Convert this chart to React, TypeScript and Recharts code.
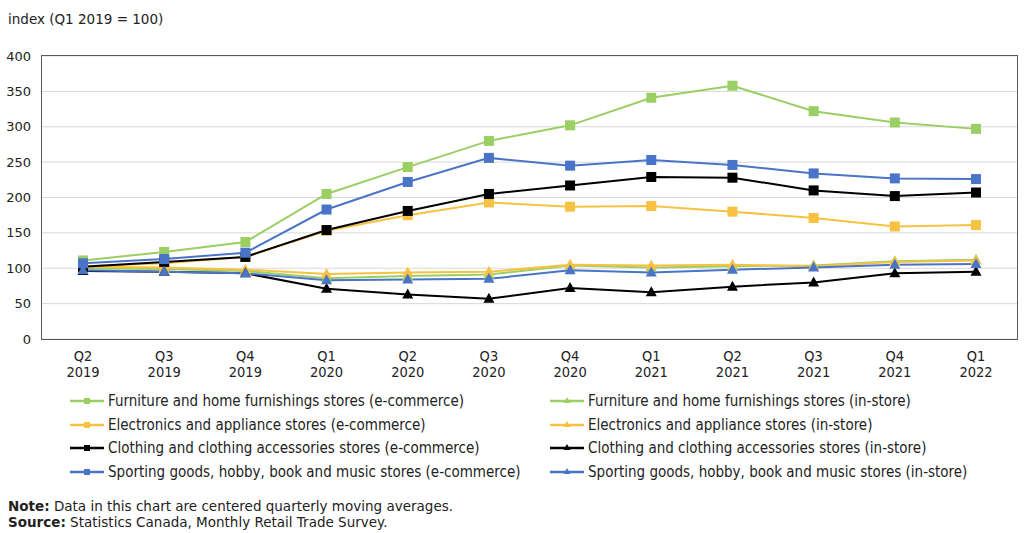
import React from 'react'
import { LineChart, Line, XAxis, YAxis, CartesianGrid } from 'recharts'

const quarters = ['Q2 2019', 'Q3 2019', 'Q4 2019', 'Q1 2020', 'Q2 2020', 'Q3 2020', 'Q4 2020', 'Q1 2021', 'Q2 2021', 'Q3 2021', 'Q4 2021', 'Q1 2022']
const yTicks = [0, 50, 100, 150, 200, 250, 300, 350, 400]

const furnEcom = [111, 123, 137, 205, 243, 280, 302, 341, 358, 322, 306, 297]
const furnStore = [100, 99, 96, 86, 89, 91, 104, 101, 103, 104, 110, 112]
const elecEcom = [103, 107, 116, 153, 175, 193, 187, 188, 180, 171, 159, 161]
const elecStore = [102, 101, 98, 92, 94, 95, 105, 104, 105, 103, 109, 111]
const clothEcom = [102, 109, 116, 154, 181, 205, 217, 229, 228, 210, 202, 207]
const clothStore = [96, 95, 93, 71, 63, 57, 72, 66, 74, 80, 93, 95]
const sportEcom = [107, 113, 122, 183, 222, 256, 245, 253, 246, 234, 227, 226]
const sportStore = [97, 95, 93, 83, 84, 85, 97, 94, 98, 101, 105, 106]

const GREEN = '#9BCF63'
const YELLOW = '#F7C242'
const BLACK = '#000000'
const BLUE = '#4A74C7'

type Series = { key: string; name: string; color: string; shape: 'square' | 'triangle'; values: number[] }

const series: Series[] = [
  { key: 'furnEcom', name: 'Furniture and home furnishings stores (e-commerce)', color: GREEN, shape: 'square', values: furnEcom },
  { key: 'furnStore', name: 'Furniture and home furnishings stores (in-store)', color: GREEN, shape: 'triangle', values: furnStore },
  { key: 'elecEcom', name: 'Electronics and appliance stores (e-commerce)', color: YELLOW, shape: 'square', values: elecEcom },
  { key: 'elecStore', name: 'Electronics and appliance stores (in-store)', color: YELLOW, shape: 'triangle', values: elecStore },
  { key: 'clothEcom', name: 'Clothing and clothing accessories stores (e-commerce)', color: BLACK, shape: 'square', values: clothEcom },
  { key: 'clothStore', name: 'Clothing and clothing accessories stores (in-store)', color: BLACK, shape: 'triangle', values: clothStore },
  { key: 'sportEcom', name: 'Sporting goods, hobby, book and music stores (e-commerce)', color: BLUE, shape: 'square', values: sportEcom },
  { key: 'sportStore', name: 'Sporting goods, hobby, book and music stores (in-store)', color: BLUE, shape: 'triangle', values: sportStore },
]

const data = quarters.map((q, i) => {
  const row: any = { q }
  series.forEach(s => { row[s.key] = s.values[i] })
  return row
})

const makeDot = (color: string, shape: string) => (p: any) => {
  const { cx, cy, index } = p
  if (cx == null || cy == null) return <g key={index} />
  if (shape === 'square') {
    return <rect key={index} x={cx - 5} y={cy - 5} width={10} height={10} fill={color} />
  }
  return <polygon key={index} points={`${cx},${cy - 6} ${cx + 5.5},${cy + 4} ${cx - 5.5},${cy + 4}`} fill={color} />
}

const XTick = (p: any) => {
  const { x, y, payload } = p
  const [a, b] = String(payload.value).split(' ')
  return (
    <text x={x} y={y} textAnchor="middle" fill="#222" fontSize={14.5} fontFamily="'DejaVu Sans Condensed', 'DejaVu Sans', sans-serif">
      <tspan x={x} dy={14}>{a}</tspan>
      <tspan x={x} dy={16}>{b}</tspan>
    </text>
  )
}

const font = "'DejaVu Sans', Verdana, sans-serif"
const legendFont = "'DejaVu Sans Condensed', 'DejaVu Sans', sans-serif"

export default function App() {
  return (
    <div style={{ position: 'absolute', left: 0, top: 0, width: 1024, height: 533, background: '#fff', fontFamily: font, color: '#222' }}>
      <div style={{ position: 'absolute', left: 8, top: 11, fontSize: 13.5 }}>index (Q1 2019 = 100)</div>
      <LineChart width={1024} height={533} data={data} margin={{ top: 56, right: 7, left: 0, bottom: 0 }}>
        <CartesianGrid horizontal vertical={false} stroke="#D9D9D9" strokeWidth={1} />
        <XAxis dataKey="q" interval={0} height={194} padding={{ left: 41, right: 41 }} tick={<XTick />} tickLine={false} axisLine={false} />
        <YAxis
          domain={[0, 400]}
          ticks={yTicks}
          width={42}
          tickLine={false}
          tickMargin={5}
          axisLine={false}
          tick={{ fill: '#222', fontSize: 13, fontFamily: font }}
        />
        {series.map(s => (
          <Line
            key={s.key}
            dataKey={s.key}
            name={s.name}
            stroke={s.color}
            strokeWidth={2}
            dot={makeDot(s.color, s.shape)}
            activeDot={false}
            isAnimationActive={false}
          />
        ))}
      </LineChart>
      {/* plot frame */}
      <div style={{ position: 'absolute', left: 41, top: 55, width: 975, height: 283, border: '1.5px solid #595959', pointerEvents: 'none' }} />
      {series.map((s, i) => {
        const col = i % 2
        const row = Math.floor(i / 2)
        const left = col === 0 ? 70 : 550
        const top = 401 + row * 23.5
        return (
          <div key={s.key} style={{ position: 'absolute', left, top: top - 9, height: 18, display: 'flex', alignItems: 'center', fontFamily: legendFont, fontSize: 15, whiteSpace: 'nowrap' }}>
            <svg width={36} height={18} style={{ marginRight: 2 }}>
              <line x1={0} y1={9} x2={34} y2={9} stroke={s.color} strokeWidth={2.5} />
              {s.shape === 'square'
                ? <rect x={14} y={6} width={6} height={6} fill={s.color} />
                : <polygon points="17,5 20.5,11 13.5,11" fill={s.color} />}
            </svg>
            <span>{s.name}</span>
          </div>
        )
      })}
      <div style={{ position: 'absolute', left: 8, top: 498, fontSize: 13.5, lineHeight: '16px' }}>
        <div><b>Note:</b> Data in this chart are centered quarterly moving averages.</div>
        <div><b>Source:</b> Statistics Canada, Monthly Retail Trade Survey.</div>
      </div>
    </div>
  )
}
